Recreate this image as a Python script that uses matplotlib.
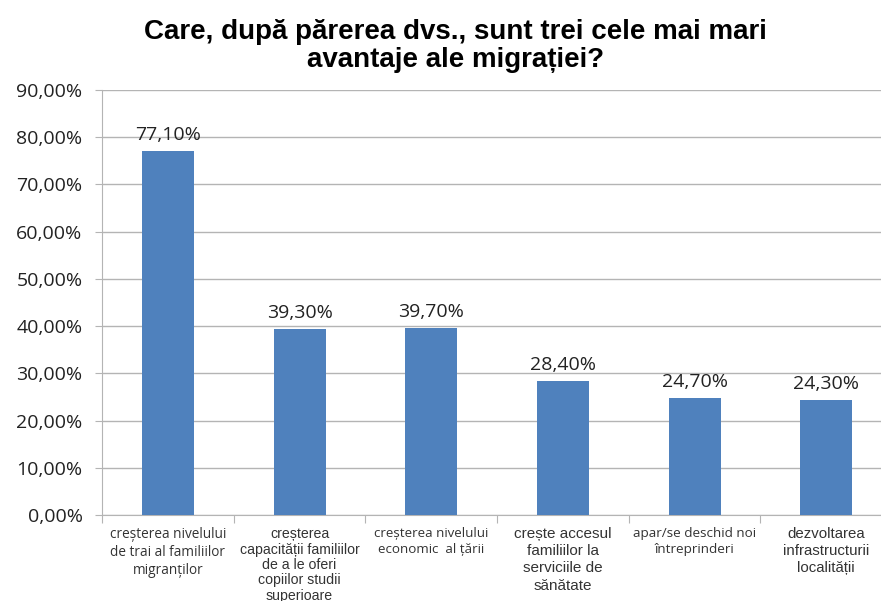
import numpy as np
import matplotlib
matplotlib.use("Agg")
from matplotlib import pyplot as plt
from matplotlib.ticker import FuncFormatter, FixedLocator

# date: avantajele migratiei (procente)
categorii = [
    "creșterea nivelului\nde trai al familiilor\nmigranților",
    "creșterea\ncapacității familiilor\nde a le oferi\ncopiilor studii\nsuperioare",
    "creșterea nivelului\neconomic  al țării",
    "crește accesul\nfamiliilor la\nserviciile de\nsănătate",
    "apar/se deschid noi\nîntreprinderi",
    "dezvoltarea\ninfrastructurii\nlocalității",
]
procente = [77.10, 39.30, 39.70, 28.40, 24.70, 24.30]
# unele etichete sunt scrise cu alt font in graficul original
font_eticheta = ["Open Sans", "Liberation Sans", "Open Sans",
                 "Liberation Sans", "Open Sans", "Liberation Sans"]
marime_eticheta = [9.8, 10.2, 9.6, 11, 9.7, 10.8]
# eticheta cu 5 randuri e mai stransa ca sa incapa in figura
spatiere = [1.28, 1.12, 1.28, 1.28, 1.28, 1.28]

culoare_bara = "#4f81bd"
culoare_grila = "#b4b4b4"

fig = plt.figure(figsize=(8.81, 6.01), dpi=100)
# zona graficului trece putin de marginea din dreapta
ax = fig.add_axes([0.1158, 0.1431, 0.8967, 0.7071])

x = np.arange(len(procente))
ax.bar(x, procente, width=0.395, color=culoare_bara, zorder=3)

for xi, v in zip(x, procente):
    ax.annotate(f"{v:.2f}%".replace(".", ","), (xi, v), xytext=(0, 5),
                textcoords="offset points", ha="center", va="bottom",
                fontsize=14, family="Open Sans", color="#222222")

ax.set_xlim(-0.5, len(procente) - 0.5)
ax.set_ylim(0, 90)
ax.set_yticks(np.arange(0, 91, 10))
ax.yaxis.set_major_formatter(FuncFormatter(lambda v, p: f"{v:.2f}%".replace(".", ",")))
ax.tick_params(axis="y", length=5, color=culoare_grila, pad=9, labelsize=14)
for t in ax.get_yticklabels():
    t.set_family("Open Sans")
    t.set_color("#222222")

ax.yaxis.grid(True, color=culoare_grila, linewidth=1, zorder=0)

# liniute intre categorii pe axa x
ax.xaxis.set_major_locator(FixedLocator(np.arange(-0.5, len(procente), 1)))
ax.xaxis.set_major_formatter(FuncFormatter(lambda v, p: ""))
ax.tick_params(axis="x", length=6, color=culoare_grila)

for xi, text, f, s, ls in zip(x, categorii, font_eticheta, marime_eticheta, spatiere):
    ax.text(xi, -2.6, text, ha="center", va="top", fontsize=s, family=f,
            color="#333333", linespacing=ls, clip_on=False)

for side in ["top", "right"]:
    ax.spines[side].set_visible(False)
ax.spines["left"].set_color(culoare_grila)
ax.spines["bottom"].set_color(culoare_grila)

fig.text(0.517, 0.968, "Care, după părerea dvs., sunt trei cele mai mari\navantaje ale migrației?",
         ha="center", va="top", fontsize=20, fontweight="bold",
         family="Liberation Sans", linespacing=1.1)

plt.savefig("out.png")
plt.close()
